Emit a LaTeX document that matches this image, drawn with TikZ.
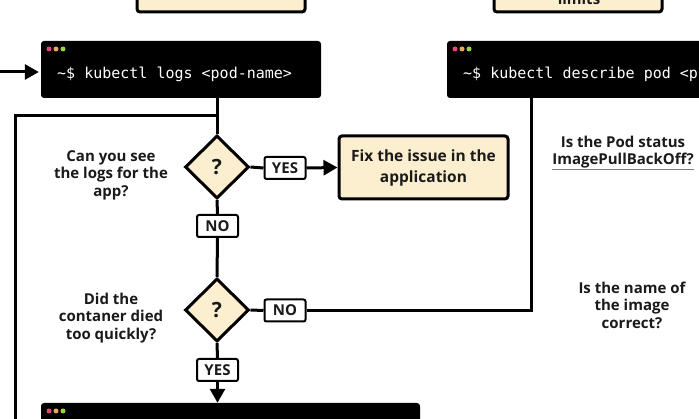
\documentclass[tikz,border=0pt]{standalone}
\usepackage{fontspec}
\setmainfont{Open Sans}
\setmonofont{DejaVu Sans Mono}
\usetikzlibrary{arrows.meta,shapes.geometric}
\definecolor{cream}{HTML}{FCEFCF}
\definecolor{ink}{HTML}{1A1A1A}
\definecolor{dotpink}{HTML}{E5457A}
\definecolor{dotorange}{HTML}{EBA65C}
\definecolor{dotgreen}{HTML}{9CD33E}
\tikzset{
  termbox/.style={fill=black, rounded corners=3pt, inner sep=0pt, minimum height=57pt},
  termtext/.style={text=white, font=\ttfamily\fontsize{15}{18}\selectfont, inner sep=0pt, anchor=base west},
  creambox/.style={draw=black, fill=cream, line width=3pt, rounded corners=3pt, inner sep=0pt, align=center, font=\bfseries\fontsize{15.5}{21}\selectfont, text=ink},
  decision/.style={diamond, draw=black, fill=cream, line width=3pt, inner sep=0pt, minimum width=64pt, minimum height=63pt, font=\bfseries\fontsize{21}{22}\selectfont, text=ink},
  tag/.style={draw=black, fill=white, line width=2pt, rounded corners=2pt, inner sep=0pt, minimum width=41pt, minimum height=22pt, font=\bfseries\fontsize{15}{16}\selectfont, text=ink},
  question/.style={align=center, inner sep=0pt, font=\bfseries\fontsize{15}{17.5}\selectfont, text=ink},
  conn/.style={draw=black, line width=3pt},
  arr/.style={conn, -{Triangle[length=14pt,width=15pt]}},
  dotc/.style={circle, inner sep=0pt, minimum size=5pt}
}
\begin{document}
\begin{tikzpicture}[x=1pt,y=-1pt]
\useasboundingbox (0,0) rectangle (699,419);
\clip (0,0) rectangle (699,419);

% top boxes (cut off)
\node[creambox, minimum width=168pt, minimum height=64pt] (b1) at (221,-20) {};
\node[creambox, minimum width=168pt, minimum height=64pt] (b2) at (578,-20) {};
\node[question, anchor=base] (lim) at (579,5) {limits};

% terminal 1
\node[termbox, minimum width=280pt] (t1) at (181,69.5) {};
\node[termtext] (t1txt) at (57,78.5) {\~{}\$ kubectl logs <pod-name>};
\node[dotc, fill=dotpink] (t1a) at (49,49) {};
\node[dotc, fill=dotorange] (t1b) at (56,49) {};
\node[dotc, fill=dotgreen] (t1c) at (63,49) {};

% terminal 2
\node[termbox, minimum width=300pt] (t2) at (597,69.5) {};
\node[termtext] (t2txt) at (463,78.5) {\~{}\$ kubectl describe pod <p};
\node[dotc, fill=dotpink] (t2a) at (455,49) {};
\node[dotc, fill=dotorange] (t2b) at (462,49) {};
\node[dotc, fill=dotgreen] (t2c) at (469,49) {};

% terminal 3 (cut off)
\node[termbox, minimum width=379pt] (t3) at (230.5,431.5) {};
\node[dotc, fill=dotpink] (t3a) at (49,411) {};
\node[dotc, fill=dotorange] (t3b) at (56,411) {};
\node[dotc, fill=dotgreen] (t3c) at (63,411) {};

% decisions
\node[decision] (d1) at (217,167) {?};
\node[decision] (d2) at (217,310) {?};

% questions
\node[question] (q1) at (111,175) {Can you see\\the logs for the\\app?};
\node[question] (q2) at (111,318) {Did the\\contaner died\\too quickly?};
\node[question] (q3) at (623,152) {Is the Pod status\\ImagePullBackOff?};
\node[question] (q4) at (632,305) {Is the name of\\the image\\correct?};
\draw[gray, line width=1pt] ([yshift=-1.5pt]q3.south west) -- ([yshift=-1.5pt]q3.south east);

% fix box
\node[creambox, minimum width=169pt, minimum height=63pt] (fix) at (423.5,167.5) {Fix the issue in the\\application};

% tags
\node[tag] (yes1) at (285,168) {YES};
\node[tag] (no1) at (217.5,226) {NO};
\node[tag] (no2) at (285,310.5) {NO};
\node[tag] (yes2) at (217.5,370) {YES};

% coordinates
\coordinate (lin) at (-5,72);
\coordinate (j1) at (217,116);
\coordinate (lb) at (15,440);
\coordinate (c2) at (531,98);

% connectors
\draw[arr] (lin) -- ([xshift=-2pt]t1.west |- lin);
\draw[conn] (t1.south -| d1) -- (d1.north);
\draw[conn] (j1) -| (lb);
\draw[conn] (d1.east) -- (yes1.west);
\draw[arr] (yes1.east) -- (fix.west);
\draw[conn] (d1.south) -- (no1.north);
\draw[conn] (no1.south) -- (d2.north);
\draw[conn] (d2.east) -- (no2.west);
\draw[conn] (no2.east) -| (c2);
\draw[conn] (d2.south) -- (yes2.north);
\draw[arr] (yes2.south) -- (yes2.south |- t3.north);
\end{tikzpicture}
\end{document}
